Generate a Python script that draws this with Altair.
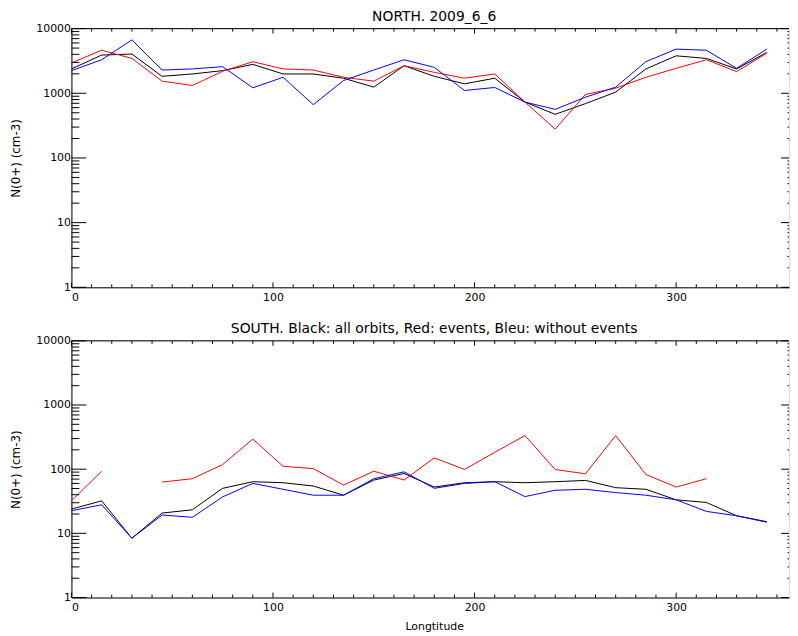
import altair as alt
import pandas as pd

# ---------------- data ----------------
lon = [0, 15, 30, 45, 60, 75, 90, 105, 120, 135, 150, 165,
       180, 195, 210, 225, 240, 255, 270, 285, 300, 315, 330, 345]

north_all = [2380, 3900, 4040, 1830, 1990, 2240, 2800, 1990, 1990, 1710, 1245, 2670,
             1830, 1400, 1710, 731, 473, 692, 1042, 2380, 3800, 3460, 2380, 4280]
north_events = [2940, 4640, 3460, 1540, 1320, 2190, 3080, 2380, 2290, 1770, 1540, 2670,
                2110, 1710, 1990, 731, 279, 960, 1200, 1770, 2430, 3300, 2165, 4180]
north_without = [2240, 3300, 6700, 2290, 2380, 2580, 1215, 1770, 667, 1575, 2290, 3300,
                 2520, 1105, 1230, 731, 565, 870, 1245, 3080, 4820, 4640, 2430, 4820]

south_all = [23.9, 32.1, 8.4, 20.7, 23.3, 50.3, 63.8, 61.5, 54.7, 39.3, 67.6, 85.7,
             52.7, 61.5, 63.8, 61.5, 63.8, 66.8, 51.5, 48.6, 33.3, 30.3, 18.8, 15.2]
south_events = [32.1, 93, None, 63, 71, 118, 294, 111, 102, 56.6, 93, 67.6,
                150, 99, 183, 334, 99, 84.7, 334, 82.8, 52.7, 71, None, None]
south_without = [22.5, 27.9, 8.4, 19.3, 17.8, 37, 60, 48.6, 39.3, 39.3, 71, 91,
                 50.3, 60, 63.8, 37.4, 46.9, 48.6, 43.2, 39.3, 33.3, 22, 18.8, 14.9]

series_names = ["all", "events", "without"]
series_colors = ["black", "red", "blue"]

y_major = [1, 10, 100, 1000, 10000]
y_minor = [k * 10 ** d for d in range(4) for k in range(2, 10)]
x_major = [0, 100, 200, 300]
x_minor = [v for v in range(10, 360, 10) if v % 100 != 0]

title_north = "NORTH. 2009_6_6"
title_south = "SOUTH. Black: all orbits, Red: events, Bleu: without events"
y_title = "N(0+) (cm-3)"
x_title = "Longtitude"

# ---------------- helpers ----------------
FONT = "DejaVu Sans"
W = 724


def long_df(series):
    rows = []
    for name, vals in series:
        seg, gap = 0, False
        for lo, v in zip(lon, vals):
            if v is None:
                gap = True
                continue
            if gap:
                seg += 1
                gap = False
            rows.append({"series": name, "lon": lo, "val": v, "seg": f"{name}{seg}"})
    return pd.DataFrame(rows)


def panel(df, title, h, xt):
    xs = alt.Scale(domain=[0, 356], nice=False, zero=False)
    ys = alt.Scale(type="log", domain=[1, 10000], nice=False)
    xaxis_kw = dict(values=x_major, ticks=False, tickSize=0, labelPadding=4, grid=False,
                    domainColor="black", labelFont=FONT, labelFontSize=11,
                    labelColor="black", labelAngle=0)
    if xt:
        xaxis = alt.Axis(title=xt, titleFont=FONT, titleFontSize=11, titleFontWeight="normal",
                         titleColor="black", titlePadding=8, titleX=366, **xaxis_kw)
    else:
        xaxis = alt.Axis(title=None, **xaxis_kw)
    yaxis = alt.Axis(values=y_major, format="d", ticks=False, tickSize=0, labelPadding=1,
                     grid=False, domainColor="black", labelFont=FONT, labelFontSize=11,
                     labelColor="black", title=y_title, titleFont=FONT, titleFontSize=12,
                     titleFontWeight="normal", titleColor="black", titlePadding=13)

    lines = alt.Chart(df).mark_line(strokeWidth=1).encode(
        x=alt.X("lon:Q", scale=xs, axis=xaxis),
        y=alt.Y("val:Q", scale=ys, axis=yaxis),
        color=alt.Color("series:N", scale=alt.Scale(domain=series_names, range=series_colors),
                        legend=None),
        detail="seg:N",
    )

    ymaj = pd.DataFrame({"v": y_major})
    ymin = pd.DataFrame({"v": y_minor})
    xmaj = pd.DataFrame({"v": x_major})
    xmin = pd.DataFrame({"v": x_minor})

    def yt(d, x0, x1):
        return alt.Chart(d).mark_rule(color="black", strokeWidth=1).encode(
            y=alt.Y("v:Q", scale=ys, axis=yaxis), x=alt.value(x0), x2=alt.value(x1))

    def xtk(d, y0, y1):
        return alt.Chart(d).mark_rule(color="black", strokeWidth=1).encode(
            x=alt.X("v:Q", scale=xs, axis=xaxis), y=alt.value(y0), y2=alt.value(y1))

    top_line = alt.Chart(pd.DataFrame({"a": [0]})).mark_rule(color="black", strokeWidth=1).encode(
        x=alt.value(0), x2=alt.value(W), y=alt.value(0))

    layers = [
        lines,
        yt(ymaj, 0, 15), yt(ymin, 0, 8),
        yt(ymaj, W, W - 8), yt(ymin, W, W - 1.5),
        xtk(xmaj, h, h - 5), xtk(xmin, h, h - 3),
        xtk(xmaj, 0, 5), xtk(xmin, 0, 3),
        top_line,
    ]
    return alt.layer(*layers).properties(
        width=W, height=h,
        title=alt.TitleParams(title, font=FONT, fontSize=14, fontWeight="normal",
                              color="black", anchor="middle", frame="group", offset=-1, dx=4),
    )


north_df = long_df([("all", north_all), ("events", north_events), ("without", north_without)])
south_df = long_df([("all", south_all), ("events", south_events), ("without", south_without)])

chart = alt.vconcat(
    panel(north_df, title_north, 261, None),
    panel(south_df, title_south, 259, x_title),
    spacing=18,
).properties(
    padding={"left": 1, "top": -2, "right": 0, "bottom": 0},
).configure_view(stroke=None).configure(background="white")

chart.save("out.html", embed_options={"renderer": "svg", "actions": False})
